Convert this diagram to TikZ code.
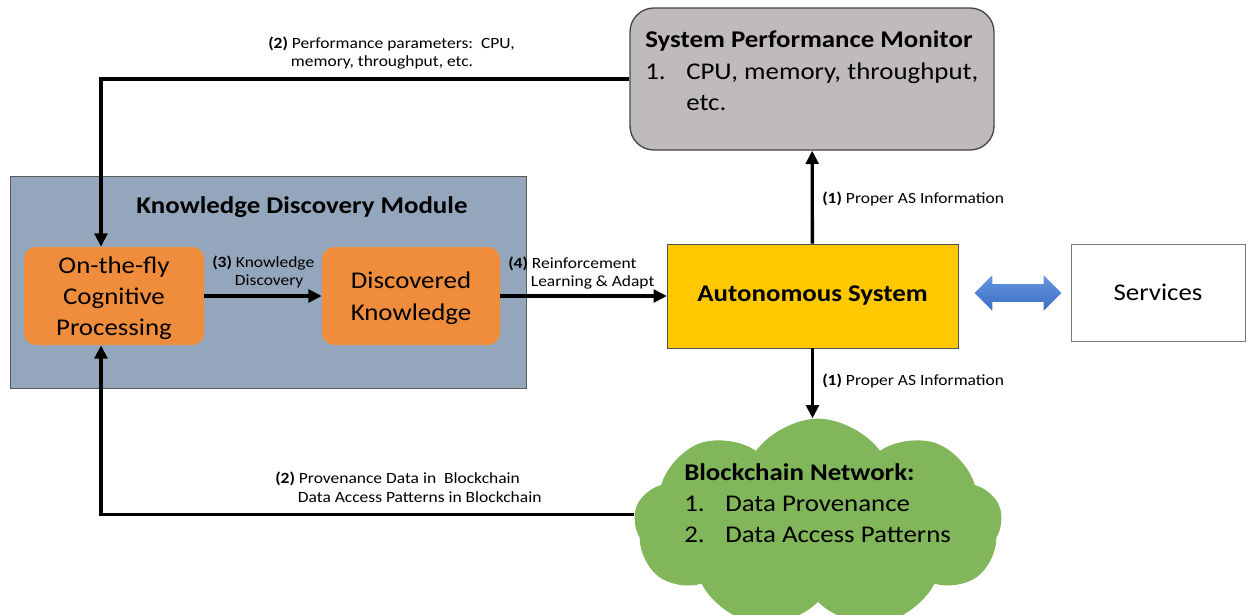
\documentclass[tikz,border=0pt]{standalone}
\usepackage{fontspec}
\setmainfont{Carlito}[FakeStretch=1.12]
\usepackage{tikz}
\usetikzlibrary{arrows.meta,shapes.symbols,shapes.arrows}

\definecolor{kdmblue}{RGB}{148,166,188}
\definecolor{boxorange}{RGB}{240,141,60}
\definecolor{asyellow}{RGB}{255,200,0}
\definecolor{spmgray}{RGB}{191,187,186}
\definecolor{cloudgreen}{RGB}{130,182,90}
\definecolor{arrowblue}{RGB}{74,126,207}

\newcommand{\numitem}[1]{\makebox[30.75pt][l]{#1}}

\tikzset{
  bigtxt/.style={font=\fontsize{18}{23.5}\selectfont},
  lbl/.style={font=\fontsize{11.7}{14}\selectfont, align=left, anchor=west, inner sep=0pt},
  orangebox/.style={bigtxt, fill=boxorange, rounded corners=9pt, minimum width=135pt, minimum height=73.5pt, align=center, text depth=-2pt},
  conn/.style={line width=2.5pt, -{Triangle[length=10pt,width=9.5pt]}},
}

\begin{document}
\begin{tikzpicture}[x=0.75pt,y=0.75pt,yscale=-1,xscale=1]
\useasboundingbox (0,0) rectangle (1249,614);

%Shape: Rectangle [knowledge discovery module]
\node[draw={rgb,255:red,90;green,90;blue,90}, fill=kdmblue, minimum width=387pt, minimum height=159pt] (kdm) at (268,282) {};
% Text Node
\node[bigtxt, font=\fontsize{18}{23.5}\selectfont\bfseries] (kdmtitle) at (302,207) {Knowledge Discovery Module};

%Shape: Rounded Rect
\node[orangebox] (fly) at (114,296) {On-the-fly\\Cognitive\\Processing};
%Shape: Rounded Rect
\node[orangebox, minimum width=133.5pt] (disc) at (411,296) {Discovered\\Knowledge};

%Shape: Rectangle [autonomous system]
\node[bigtxt, font=\fontsize{18}{23.5}\selectfont\bfseries, draw={rgb,255:red,80;green,80;blue,80}, fill=asyellow, minimum width=218pt, minimum height=78pt] (as) at (812.5,296) {Autonomous System};

%Shape: Rectangle [services]
\node[bigtxt, draw={rgb,255:red,120;green,120;blue,120}, fill=white, minimum width=130.5pt, minimum height=72.75pt] (serv) at (1158,292.5) {Services};

%Shape: Double Arrow
\node[double arrow, draw=none, top color={rgb,255:red,100;green,150;blue,225}, bottom color={rgb,255:red,60;green,110;blue,195}, minimum height=65pt, minimum width=26pt, double arrow head extend=6.6pt, inner xsep=0pt, inner ysep=6.4pt] (twoway) at (1018,293) {};

%Shape: Rounded Rect [performance monitor]
\node[draw={rgb,255:red,70;green,70;blue,70}, line width=1pt, fill=spmgray, rounded corners=18pt, minimum width=273pt, minimum height=106.5pt] (spm) at (812,79) {};
% Text Node
\node[bigtxt, align=left, anchor=west, inner sep=0pt] (spmtxt) at (645,71) {\textbf{System Performance Monitor}\\\numitem{1.}CPU, memory, throughput,\\\hspace*{30.75pt}etc.};

%Shape: Cloud [blockchain]
\node[cloud, cloud puffs=9, cloud puff arc=110, aspect=1.75, fill=cloudgreen, minimum width=276pt, minimum height=158pt] (cloud) at (818,524) {};
% Text Node
\node[bigtxt, align=left, anchor=west, inner sep=0pt] (cloudtxt) at (684,503) {\textbf{Blockchain Network:}\\\numitem{1.}Data Provenance\\\numitem{2.}Data Access Patterns};

%Straight Lines
\draw[conn] (spm.west) -| ([xshift=-9.75pt]fly.north);
\draw[conn] (cloud.177) -| ([xshift=-9.75pt]fly.south);
\draw[conn] (fly) -- (disc);
\draw[conn] (disc) -- (as);
\draw[conn] (as) -- (spm);
\draw[conn] (as.south) -- (as.south |- cloud.north);

% Text Node
\node[lbl] (perflbl) at (268,53) {\textbf{(2)} Performance parameters:\ \ CPU,\\\hspace*{17pt}memory, throughput, etc.};
% Text Node
\node[lbl] (provlbl) at (275,487) {\textbf{(2)} Provenance Data in\ \ Blockchain\\\hspace*{17pt}Data Access Patterns in Blockchain};
% Text Node
\node[lbl] (knowlbl) at (212,272) {\textbf{(3)} Knowledge\\\hspace*{17pt}Discovery};
% Text Node
\node[lbl] (reinlbl) at (508,273) {\textbf{(4)} Reinforcement\\\hspace*{17pt}Learning \& Adapt};
% Text Node
\node[lbl] (toplbl) at (822,199) {\textbf{(1)} Proper AS Information};
% Text Node
\node[lbl] (botlbl) at (822,381) {\textbf{(1)} Proper AS Information};

\end{tikzpicture}
\end{document}
